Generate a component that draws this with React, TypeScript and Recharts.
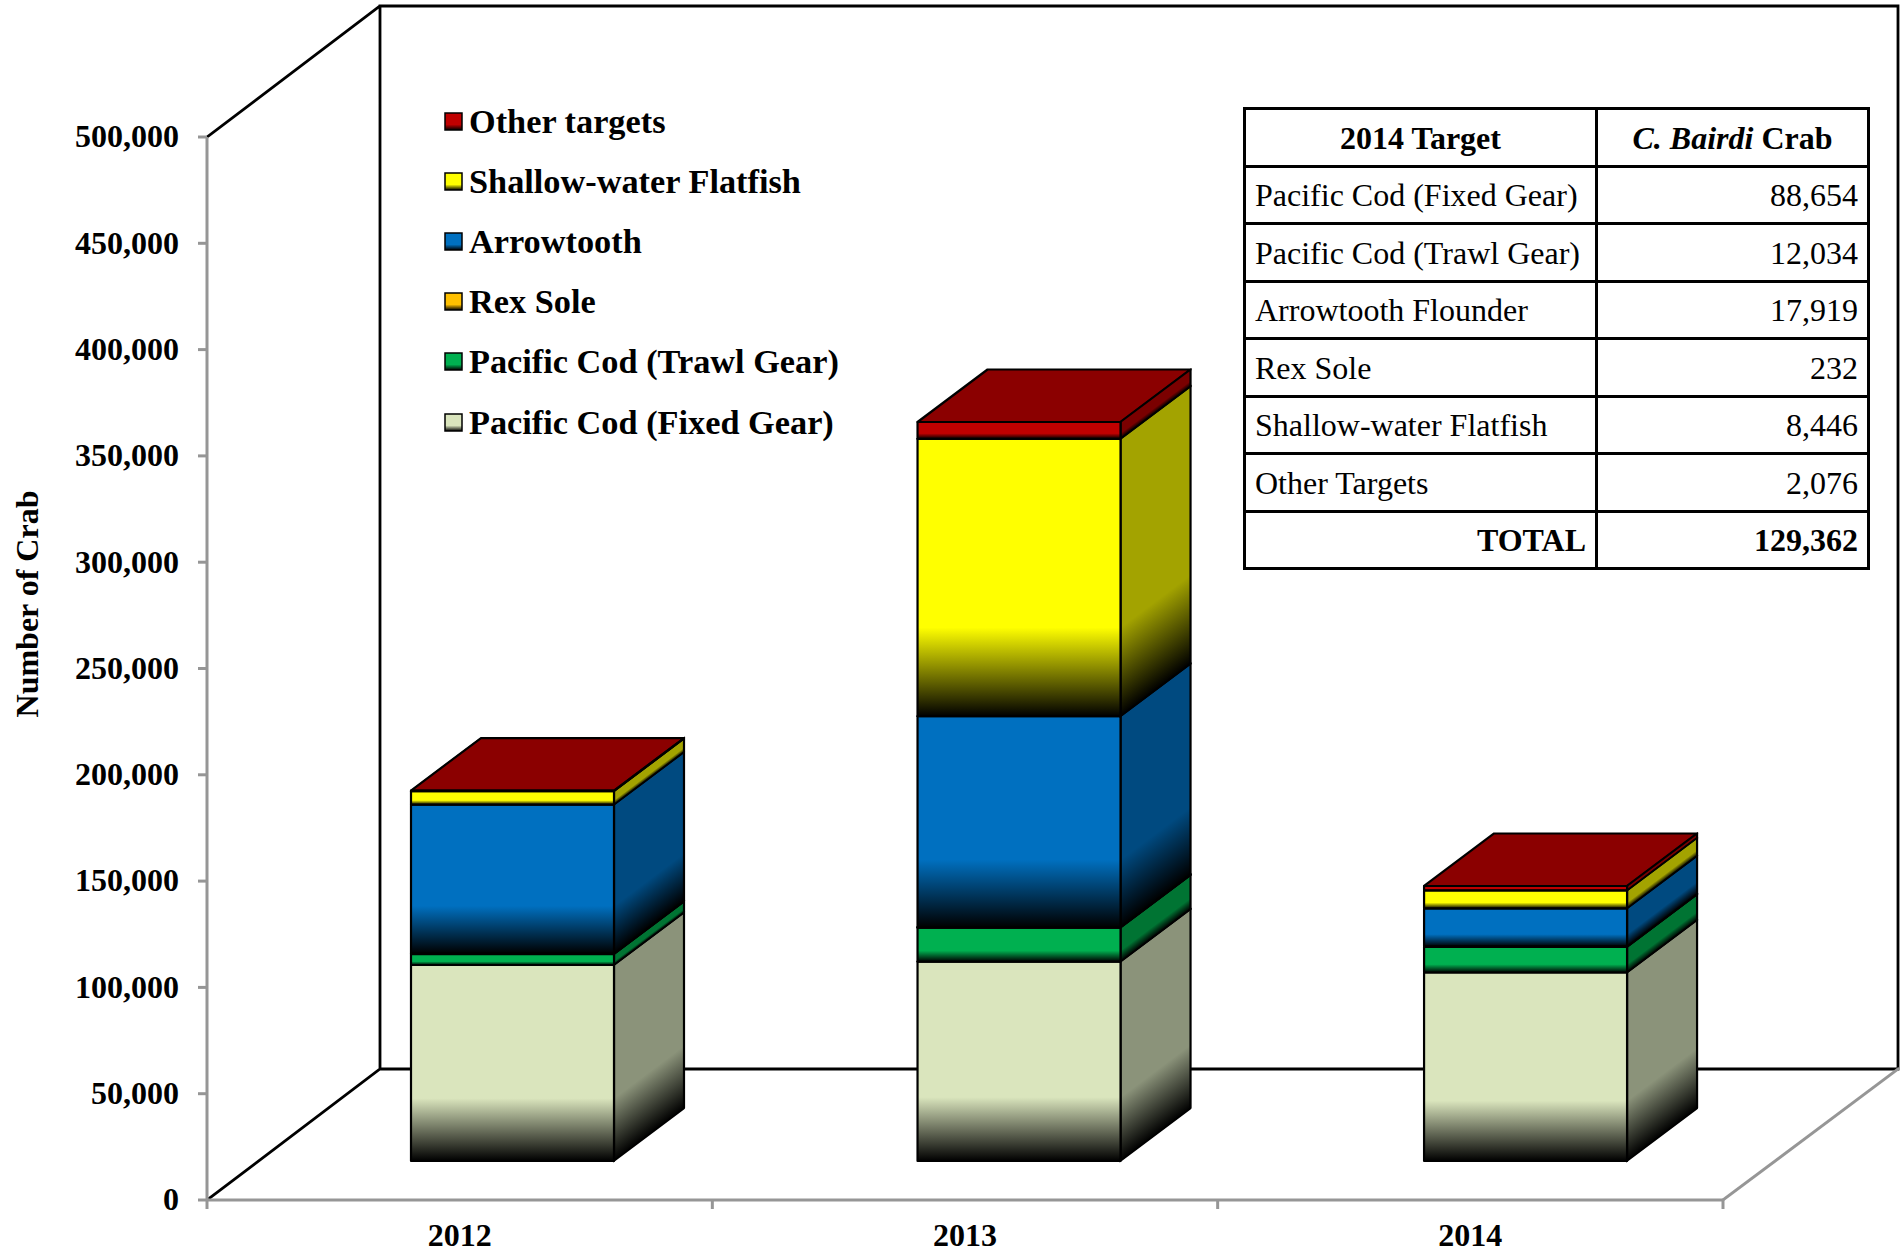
import React from "react";
import { BarChart, Bar, XAxis, YAxis, Legend, Customized, Label } from "recharts";

const categories = ["2012", "2013", "2014"];
const fixedGear = [92200, 93800, 88654];
const trawlGear = [5200, 16000, 12034];
const rexSole = [150, 200, 232];
const arrowtooth = [70100, 99200, 17919];
const flatfish = [6300, 130500, 8446];
const otherTargets = [300, 7900, 2076];

const yTicks = [0, 50000, 100000, 150000, 200000, 250000, 300000, 350000, 400000, 450000, 500000];

const seriesNames = ["Pacific Cod (Fixed Gear)", "Pacific Cod (Trawl Gear)", "Rex Sole", "Arrowtooth", "Shallow-water Flatfish", "Other targets"];
const seriesKeys = ["fixed", "trawl", "rex", "arrow", "flat", "other"];
const frontColors = ["#DAE5BD", "#00B050", "#FFC000", "#0070C0", "#FFFF00", "#C00000"];
const sideColors = ["#8B937A", "#007433", "#A37B00", "#004A80", "#A3A300", "#7A0000"];
const topColors = ["#9AA385", "#007F38", "#B38600", "#004F87", "#B3B300", "#8B0000"];

const tableHeaderLeft = "2014 Target";
const tableLabels = ["Pacific Cod (Fixed Gear)", "Pacific Cod (Trawl Gear)", "Arrowtooth Flounder", "Rex Sole", "Shallow-water Flatfish", "Other Targets"];
const tableValues = ["88,654", "12,034", "17,919", "232", "8,446", "2,076"];
const tableTotalLabel = "TOTAL";
const tableTotalValue = "129,362";

const data = categories.map((year, i) => ({
  year,
  fixed: fixedGear[i],
  trawl: trawlGear[i],
  rex: rexSole[i],
  arrow: arrowtooth[i],
  flat: flatfish[i],
  other: otherTargets[i],
}));

const W = 1904;
const H = 1253;
const FONT = "'Liberation Serif', 'Times New Roman', serif";
const BAR_SHIFT_X = 53;
const BAR_SHIFT_STEP = 1.2;
const BAR_SHIFT_Y = -39;
const DEPTH_X = 70;
const DEPTH_Y = 52.5;
const BAND = 505.33;
const AXIS_GREY = "#969696";

function Box(props: any) {
  const { x, y, width, height, index } = props;
  const i = props.seriesIndex as number;
  const fx = x + BAR_SHIFT_X + index * BAR_SHIFT_STEP;
  const fy = y + BAR_SHIFT_Y;
  const slope = -DEPTH_Y / DEPTH_X;
  return (
    <g key={index} stroke="#000" strokeWidth={2.2} strokeLinejoin="round">
      <polygon
        points={`${fx},${fy} ${fx + DEPTH_X},${fy - DEPTH_Y} ${fx + width + DEPTH_X},${fy - DEPTH_Y} ${fx + width},${fy}`}
        fill={topColors[i]}
      />
      <g transform={`matrix(1 ${slope} 0 1 ${fx + width} ${fy})`}>
        <rect x={0} y={0} width={DEPTH_X} height={Math.max(height, 0.5)} fill={`url(#side${i})`} />
      </g>
      <rect x={fx} y={fy} width={width} height={Math.max(height, 0.5)} fill={`url(#front${i})`} />
    </g>
  );
}

function Walls() {
  return (
    <g fill="none" strokeLinecap="square">
      <path d="M207 137 L380 6 L1898 6 L1898 1069 L380 1069 L380 6 M380 1069 L207 1200" stroke="#000" strokeWidth={2.8} />
      <path d="M1723 1200 L1898 1069" stroke={AXIS_GREY} strokeWidth={3} />
    </g>
  );
}

function XTick(props: any) {
  const { x, payload, index } = props;
  const left = x - BAND / 2;
  const right = x + BAND / 2;
  return (
    <g>
      <line x1={left} x2={left} y1={1200} y2={1209} stroke={AXIS_GREY} strokeWidth={3} />
      {index === categories.length - 1 && <line x1={right} x2={right} y1={1200} y2={1209} stroke={AXIS_GREY} strokeWidth={3} />}
      <text x={x} y={1246} textAnchor="middle" fontFamily={FONT} fontWeight="bold" fontSize={32} fill="#000">
        {payload.value}
      </text>
    </g>
  );
}

function YTitle() {
  return (
    <text x={38} y={604} transform="rotate(-90 38 604)" textAnchor="middle" fontFamily={FONT} fontWeight="bold" fontSize={32} fill="#000">
      Number of Crab
    </text>
  );
}

function LegendBox() {
  const order = [...seriesNames.keys()].reverse();
  return (
    <div style={{ position: "absolute", left: 444, top: 91, fontFamily: FONT, fontWeight: "bold", fontSize: 34.3, color: "#000" }}>
      {order.map((i) => (
        <div key={i} style={{ display: "flex", alignItems: "center", height: 60.2, whiteSpace: "nowrap" }}>
          <svg width={19} height={19} style={{ marginRight: 6 }}>
            <rect x={1} y={1} width={17} height={17} fill={`url(#front${i})`} stroke="#000" strokeWidth={1.5} />
          </svg>
          <span>{seriesNames[i]}</span>
        </div>
      ))}
    </div>
  );
}

const cell: React.CSSProperties = { border: "3px solid #000", padding: "2px 9px 0", height: 57.5, boxSizing: "border-box", whiteSpace: "nowrap" };

function DataTable() {
  return (
    <table style={{ position: "absolute", left: 1243, top: 107, width: 624, height: 462, borderCollapse: "collapse", tableLayout: "fixed", fontFamily: FONT, fontSize: 32, color: "#000", background: "#fff" }}>
      <colgroup>
        <col style={{ width: 352 }} />
        <col style={{ width: 272 }} />
      </colgroup>
      <tbody>
        <tr>
          <td style={{ ...cell, textAlign: "center", fontWeight: "bold" }}>{tableHeaderLeft}</td>
          <td style={{ ...cell, textAlign: "center", fontWeight: "bold" }}>
            <i>C. Bairdi</i> Crab
          </td>
        </tr>
        {tableLabels.map((label, i) => (
          <tr key={label}>
            <td style={cell}>{label}</td>
            <td style={{ ...cell, textAlign: "right" }}>{tableValues[i]}</td>
          </tr>
        ))}
        <tr>
          <td style={{ ...cell, textAlign: "right", fontWeight: "bold" }}>{tableTotalLabel}</td>
          <td style={{ ...cell, textAlign: "right", fontWeight: "bold" }}>{tableTotalValue}</td>
        </tr>
      </tbody>
    </table>
  );
}

export default function App() {
  return (
    <div style={{ position: "absolute", left: 0, top: 0, width: W, height: H, background: "#fff", overflow: "hidden" }}>
      <BarChart width={W} height={H} data={data} margin={{ top: 137, right: 181, bottom: 13, left: 7 }} barSize={203}>
        <defs>
          {frontColors.map((c, i) => (
            <linearGradient key={i} id={`front${i}`} x1="0" y1="0" x2="0" y2="1">
              <stop offset="0.68" stopColor={c} />
              <stop offset="1" stopColor="#000" />
            </linearGradient>
          ))}
          {sideColors.map((c, i) => (
            <linearGradient key={i} id={`side${i}`} x1="0" y1="0" x2="0" y2="1">
              <stop offset="0.68" stopColor={c} />
              <stop offset="1" stopColor="#000" />
            </linearGradient>
          ))}
        </defs>
        <Customized component={Walls} />
        <XAxis dataKey="year" height={40} stroke={AXIS_GREY} strokeWidth={3} tickLine={false} tick={<XTick />} interval={0} />
        <YAxis
          width={200}
          domain={[0, 500000]}
          ticks={yTicks}
          interval={0}
          stroke={AXIS_GREY}
          strokeWidth={3}
          tickSize={9}
          tickMargin={19}
          tickFormatter={(v: number) => v.toLocaleString("en-US")}
          tick={{ fontFamily: FONT, fontWeight: "bold", fontSize: 32, fill: "#000", dy: -1 }}
        >
          <Label content={<YTitle />} />
        </YAxis>
        <Legend layout="vertical" align="center" verticalAlign="top" wrapperStyle={{ left: 0, top: 0, width: 0, height: 0 }} content={<LegendBox />} />
        {seriesKeys.map((k, i) => (
          <Bar key={k} dataKey={k} name={seriesNames[i]} stackId="a" fill={frontColors[i]} isAnimationActive={false} shape={(p: any) => <Box {...p} seriesIndex={i} />} />
        ))}
      </BarChart>
      <DataTable />
    </div>
  );
}
